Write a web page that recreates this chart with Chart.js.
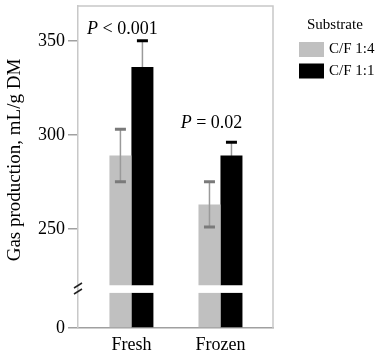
<!DOCTYPE html>
<html>
<head>
<meta charset="utf-8">
<script src="https://cdn.jsdelivr.net/npm/chart.js@4.4.0/dist/chart.umd.min.js"></script>
<style>
  body { margin: 0; background: #fff; }
</style>
</head>
<body>
<canvas id="myChart" width="383" height="358"></canvas>
<script>
  const categories = ["Fresh", "Frozen"];
  const seriesNames = ["C/F 1:4", "C/F 1:1"];
  const cf14 = [289, 263];
  const cf11 = [336, 289];
  const cf14Err = [14, 12];
  const cf11Err = [14, 7];
  const yTicks = [250, 300, 350];
  const lowTicks = [0];
  const pLabels = ["< 0.001", "= 0.02"];
  const pLabelAt = [356, 306];
  const legendTitle = "Substrate";
  const yTitle = "Gas production, mL/g DM";

  // axis break: upper part starts at breakHigh, lower stub ends at breakLow
  const breakHigh = 220;
  const breakLow = 36;

  const serif = "'Liberation Serif', 'Times New Roman', serif";
  const colors = ["#c0c0c0", "#000000"];

  function upper(values) {
    return values.map((v, i) => ({ x: i, y: [breakHigh, v] }));
  }
  function lower(values) {
    return values.map((v, i) => ({ x: i, y: Math.min(v, breakLow) }));
  }

  function drawErrors(chart, d) {
    const ctx = chart.ctx;
    const y = chart.scales.y;
    const vals = d ? cf11 : cf14;
    const errs = d ? cf11Err : cf14Err;
    chart.getDatasetMeta(d).data.forEach((bar, i) => {
      const hi = y.getPixelForValue(vals[i] + errs[i]);
      const lo = y.getPixelForValue(vals[i] - errs[i]);
      ctx.strokeStyle = "#9a9a9a";
      ctx.lineWidth = 1.5;
      ctx.beginPath();
      ctx.moveTo(bar.x, hi);
      ctx.lineTo(bar.x, lo);
      ctx.stroke();
      ctx.strokeStyle = d ? "#000" : "#7a7a7a";
      ctx.lineWidth = 3;
      ctx.beginPath();
      ctx.moveTo(bar.x - 5.5, hi);
      ctx.lineTo(bar.x + 5.5, hi);
      ctx.moveTo(bar.x - 5.5, lo);
      ctx.lineTo(bar.x + 5.5, lo);
      ctx.stroke();
    });
  }

  const decorations = {
    id: "decorations",
    beforeDatasetsDraw(chart) {
      chart.ctx.save();
      drawErrors(chart, 1);
      chart.ctx.restore();
    },
    afterDatasetsDraw(chart) {
      const { ctx, chartArea: a, scales } = chart;
      ctx.save();
      drawErrors(chart, 0);

      // top and right frame
      ctx.strokeStyle = "#c8c8c8";
      ctx.lineWidth = 1.5;
      ctx.beginPath();
      ctx.moveTo(a.left, a.top);
      ctx.lineTo(a.right, a.top);
      ctx.lineTo(a.right, a.bottom);
      ctx.stroke();

      // break marks
      const split = scales.y.bottom;
      ctx.strokeStyle = "#222";
      ctx.lineWidth = 1.5;
      ctx.beginPath();
      ctx.moveTo(a.left - 4, split - 1);
      ctx.lineTo(a.left + 4, split - 6);
      ctx.moveTo(a.left - 4, split + 5);
      ctx.lineTo(a.left + 4, split);
      ctx.stroke();

      // P values
      ctx.fillStyle = "#000";
      ctx.textBaseline = "middle";
      const m0 = chart.getDatasetMeta(0).data;
      const m1 = chart.getDatasetMeta(1).data;
      pLabels.forEach((txt, i) => {
        const cx = (m0[i].x + m1[i].x) / 2 - 9;
        const cy = scales.y.getPixelForValue(pLabelAt[i]);
        ctx.font = "italic 18px " + serif;
        const wP = ctx.measureText("P ").width;
        ctx.font = "18px " + serif;
        const wR = ctx.measureText(txt).width;
        let x = cx - (wP + wR) / 2;
        ctx.textAlign = "left";
        ctx.font = "italic 18px " + serif;
        ctx.fillText("P", x, cy);
        ctx.font = "18px " + serif;
        ctx.fillText(txt, x + wP, cy);
      });

      // y title
      ctx.save();
      ctx.translate(15, 160);
      ctx.rotate(-Math.PI / 2);
      ctx.textAlign = "center";
      ctx.font = "19px " + serif;
      ctx.fillText(yTitle, 0, 0);
      ctx.restore();

      // legend
      ctx.textAlign = "left";
      ctx.font = "15px " + serif;
      ctx.fillText(legendTitle, 307, 25);
      seriesNames.forEach((name, i) => {
        const top = 42 + i * 21.5;
        ctx.fillStyle = colors[i];
        ctx.fillRect(299, top, 25, 15);
        ctx.fillStyle = "#000";
        ctx.fillText(name, 329, top + 7.5);
      });
      ctx.restore();
    }
  };

  const tickFont = { family: serif, size: 18 };

  const config = {
    type: "bar",
    data: {
      datasets: [
        { label: seriesNames[0], data: upper(cf14), backgroundColor: colors[0], yAxisID: "y", stack: "a" },
        { label: seriesNames[1], data: upper(cf11), backgroundColor: colors[1], yAxisID: "y", stack: "b" },
        { label: seriesNames[0], data: lower(cf14), backgroundColor: colors[0], yAxisID: "y0", stack: "a" },
        { label: seriesNames[1], data: lower(cf11), backgroundColor: colors[1], yAxisID: "y0", stack: "b" },
      ],
    },
    options: {
      responsive: false,
      animation: false,
      events: [],
      categoryPercentage: 0.494,
      barPercentage: 1,
      layout: { padding: { top: 6, right: 110, left: 0, bottom: 0 } },
      plugins: {
        legend: { display: false },
        tooltip: { enabled: false },
      },
      scales: {
        x: {
          type: "linear",
          min: -0.6,
          max: 1.59,
          offset: false,
          afterBuildTicks: (s) => { s.ticks = categories.map((c, i) => ({ value: i })); },
          ticks: {
            callback: (v) => categories[v],
            font: tickFont,
            color: "#000",
            padding: 6,
            autoSkip: false,
            maxRotation: 0,
          },
          grid: { display: false, drawTicks: false, offset: false },
          border: { color: "#a0a0a0", width: 1.5 },
          afterFit: (s) => { s.height = 30; s.paddingLeft = 0; s.paddingRight = 0; },
        },
        y: {
          type: "linear",
          position: "left",
          stack: "v",
          stackWeight: 283,
          weight: 2,
          stacked: false,
          min: 218,
          max: 368.5,
          afterBuildTicks: (s) => { s.ticks = yTicks.map((v) => ({ value: v })); },
          ticks: { font: tickFont, color: "#000", padding: 3 },
          grid: { drawOnChartArea: false, tickLength: 10, color: "#a0a0a0", lineWidth: 1.5 },
          border: { color: "#c8c8c8", width: 1.5 },
          afterFit: (s) => { s.width = 78; s.paddingTop = 0; s.paddingBottom = 0; },
        },
        y0: {
          type: "linear",
          position: "left",
          stack: "v",
          stackWeight: 39,
          weight: 1,
          stacked: false,
          min: 0,
          max: 40,
          afterBuildTicks: (s) => { s.ticks = lowTicks.map((v) => ({ value: v })); },
          ticks: { font: tickFont, color: "#000", padding: 3 },
          grid: { drawOnChartArea: false, tickLength: 10, color: "#a0a0a0", lineWidth: 1.5 },
          border: { color: "#c8c8c8", width: 1.5 },
          afterFit: (s) => { s.width = 78; s.paddingTop = 0; s.paddingBottom = 0; },
        },
      },
    },
    plugins: [decorations],
  };

  const myChart = new Chart(document.getElementById("myChart"), config);
</script>
</body>
</html>
